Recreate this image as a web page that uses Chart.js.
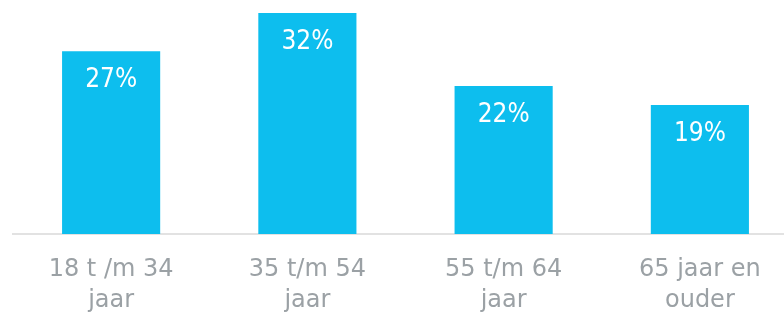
<!DOCTYPE html>
<html>
<head>
<meta charset="utf-8">
<script src="https://cdn.jsdelivr.net/npm/chart.js@4/dist/chart.umd.min.js"></script>
<style>
  html, body { margin: 0; padding: 0; background: #fff; overflow: hidden; }
  #wrap { width: 798px; height: 313px; }
</style>
</head>
<body>
<div id="wrap"><canvas id="myChart" width="798" height="313"></canvas></div>
<script>
//--------------------- Data ---------------------
const categories = [
  ["18 t /m 34", "jaar"],
  ["35 t/m 54", "jaar"],
  ["55 t/m 64", "jaar"],
  ["65 jaar en", "ouder"],
];
const shares = [26.8, 32.4, 21.7, 18.9];

// draws the white percentage inside each bar
const barLabels = {
  id: "barLabels",
  afterDatasetsDraw(chart) {
    const { ctx } = chart;
    const meta = chart.getDatasetMeta(0);
    ctx.save();
    ctx.fillStyle = "#fff";
    ctx.font = "26px 'Liberation Sans Narrow', 'DejaVu Sans Condensed', sans-serif";
    ctx.textAlign = "center";
    ctx.textBaseline = "alphabetic";
    meta.data.forEach((bar, i) => {
      ctx.fillText(Math.round(shares[i]) + "%", bar.x, bar.y + 36);
    });
    ctx.restore();
  },
};

//--------------------- Chart ---------------------
const ctx = document.getElementById("myChart").getContext("2d");
const myChart = new Chart(ctx, {
  type: "bar",
  data: {
    labels: categories,
    datasets: [
      {
        data: shares,
        backgroundColor: "#0DBEEE",
        borderWidth: 0,
        barPercentage: 0.5,
        categoryPercentage: 1,
      },
    ],
  },
  options: {
    responsive: false,
    animation: false,
    layout: { padding: { left: 13, top: 13, right: 0, bottom: 0 } },
    plugins: {
      legend: { display: false },
      tooltip: { enabled: false },
    },
    scales: {
      x: {
        grid: { display: false },
        border: { color: "#E2E2E2", width: 2 },
        ticks: {
          color: "#9BA1A5",
          font: { family: "'DejaVu Sans', sans-serif", size: 24, lineHeight: 1.3 },
          padding: 12,
          maxRotation: 0,
          autoSkip: false,
        },
        // keep the axis band the same height as in the picture
        afterFit(scale) {
          scale.height = 79;
        },
      },
      y: {
        display: false,
        min: 0,
        max: 32.4,
      },
    },
  },
  plugins: [barLabels],
});
</script>
</body>
</html>
